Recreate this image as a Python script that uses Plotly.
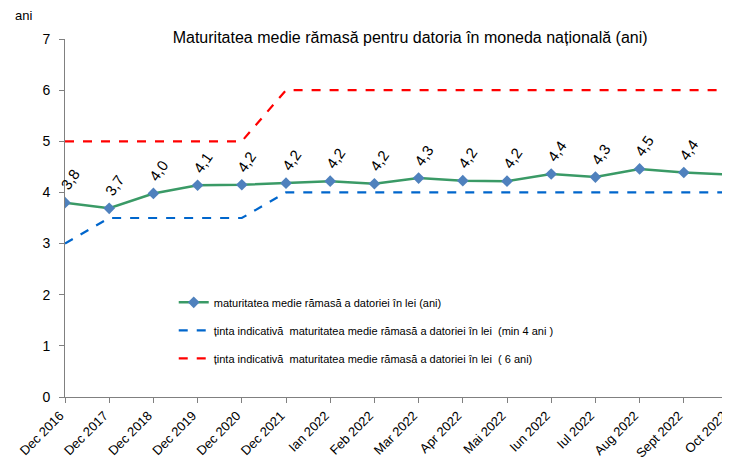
import plotly.graph_objects as go

categories = ["Dec 2016", "Dec 2017", "Dec 2018", "Dec 2019", "Dec 2020", "Dec 2021",
              "Ian 2022", "Feb 2022", "Mar 2022", "Apr 2022", "Mai 2022", "Iun 2022",
              "Iul 2022", "Aug 2022", "Sept 2022", "Oct 2022"]
maturitate = [3.80, 3.69, 3.98, 4.14, 4.15, 4.18, 4.22, 4.17, 4.28, 4.23, 4.22, 4.36,
              4.30, 4.46, 4.39, 4.35]
maturitate_labels = ["3,8", "3,7", "4,0", "4,1", "4,2", "4,2", "4,2", "4,2", "4,3", "4,2",
                     "4,2", "4,4", "4,3", "4,5", "4,4", "4,3"]
tinta_min4 = [3, 3.5, 3.5, 3.5, 3.5, 4, 4, 4, 4, 4, 4, 4, 4, 4, 4, 4]
tinta_6 = [5, 5, 5, 5, 5, 6, 6, 6, 6, 6, 6, 6, 6, 6, 6, 6]

name_green = "maturitatea medie rămasă a datoriei în lei (ani)"
name_blue = "ținta indicativă  maturitatea medie rămasă a datoriei în lei  (min 4 ani )"
name_red = "ținta indicativă  maturitatea medie rămasă a datoriei în lei  ( 6 ani)"

font = "Liberation Sans, Arial, sans-serif"

fig = go.Figure()
fig.add_trace(go.Scatter(x=categories, y=tinta_min4, mode="lines", name=name_blue,
                         line=dict(color="#0066CC", width=2.2, dash="dash"),
                         legendgroup="b", legendrank=2))
fig.add_trace(go.Scatter(x=categories, y=tinta_6, mode="lines", name=name_red,
                         line=dict(color="#FF0000", width=2.2, dash="dash"),
                         legendgroup="c", legendrank=3))
fig.add_trace(go.Scatter(x=categories, y=maturitate, mode="lines+markers", name=name_green,
                         line=dict(color="#3A9A66", width=2.5),
                         marker=dict(symbol="diamond", size=9, color="#4F81BD"),
                         legendgroup="a", legendrank=1))

for c, v, t in zip(categories, maturitate, maturitate_labels):
    fig.add_annotation(x=c, y=v, text=t, showarrow=False, textangle=-55,
                       xshift=5, yshift=23, font=dict(family=font, size=15, color="#000000"))

fig.add_annotation(xref="paper", yref="paper", x=-0.063, y=1.067, text="ani",
                   showarrow=False, xanchor="center", yanchor="middle",
                   font=dict(family=font, size=13, color="#000000"))

fig.update_layout(
    width=722, height=454,
    margin=dict(l=57, r=2, t=31, b=65),
    paper_bgcolor="white", plot_bgcolor="white",
    title=dict(text="Maturitatea medie rămasă pentru datoria în moneda națională (ani)",
               x=0.557, xanchor="center", y=1 - 29 / 454, yanchor="middle",
               yref="container", font=dict(family=font, size=16, color="#000000")),
    font=dict(family=font, color="#000000"),
    showlegend=True,
    legend=dict(x=0.164, y=0.305, xanchor="left", yanchor="top",
                bgcolor="rgba(0,0,0,0)", font=dict(family=font, size=11),
                tracegroupgap=9, traceorder="grouped", itemwidth=30),
)
fig.update_xaxes(type="category", range=[0, 15], showline=True, linecolor="#808080",
                 linewidth=1, ticks="outside", tickcolor="#808080", ticklen=5,
                 tickangle=-45, tickfont=dict(family=font, size=13), showgrid=False,
                 zeroline=False, automargin=False, ticklabelshift=-5)
fig.update_yaxes(range=[0, 7], dtick=1, showline=True, linecolor="#808080", linewidth=1,
                 ticks="outside", tickcolor="#808080", ticklen=5, showgrid=False,
                 zeroline=False, tickfont=dict(family=font, size=14), ticklabelstandoff=6,
                 automargin=False)

fig.write_html("out.html")
